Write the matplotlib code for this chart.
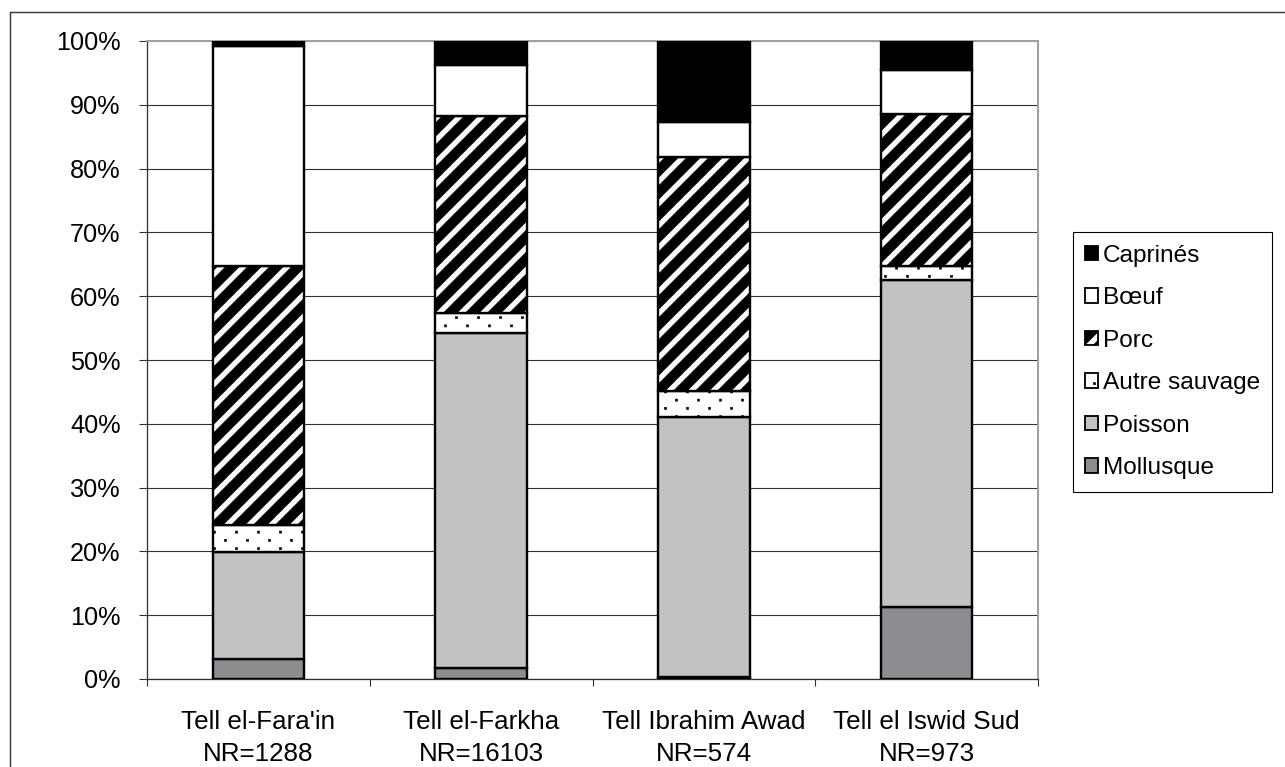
import numpy as np
import matplotlib
matplotlib.use("Agg")
import matplotlib.pyplot as plt
import matplotlib.hatch as mhatch
from matplotlib.path import Path
from matplotlib.patches import Rectangle
from matplotlib.ticker import PercentFormatter, FixedLocator

# ---- data (percent of NR per site) ----
sites = ["Tell el-Fara'in", "Tell el-Farkha", "Tell Ibrahim Awad", "Tell el Iswid Sud"]
nr = [1288, 16103, 574, 973]

mollusque = [3.1, 1.7, 0.3, 11.3]
poisson = [16.8, 52.5, 40.8, 51.3]
autre_sauvage = [4.3, 3.1, 4.0, 2.1]
porc = [40.5, 30.9, 36.7, 23.9]
boeuf = [34.5, 8.0, 5.5, 6.9]
caprines = [0.8, 3.8, 12.7, 4.5]

series_names = ["Mollusque", "Poisson", "Autre sauvage", "Porc", "Bœuf", "Caprinés"]
series_values = [mollusque, poisson, autre_sauvage, porc, boeuf, caprines]
series_faces = ["#8b8d91", "#c1c2c4", "white", "white", "white", "black"]
series_hatch = [None, None, ".", "/", None, None]


# ---- fill patterns: solid diagonal bands and a staggered fine dot grid ----
class DiagonalBands(mhatch.HatchPatternBase):
    band_fraction = 0.62

    def __init__(self, hatch, density):
        self.n = int(hatch.count("/") * density)
        self.num_vertices = (2 * self.n + 1) * 5 if self.n else 0

    def set_vertices_and_codes(self, vertices, codes):
        n = self.n
        w = self.band_fraction / n
        polys = []
        for k in range(-n, n + 1):
            c = k / n
            polys.append([(0, c), (1, c + 1), (1, c + 1 + w), (0, c + w), (0, c)])
        vertices[:] = np.array(polys).reshape(-1, 2)
        codes[:] = np.tile([Path.MOVETO, Path.LINETO, Path.LINETO,
                            Path.LINETO, Path.CLOSEPOLY], 2 * n + 1)


class StaggeredDots(mhatch.HatchPatternBase):
    size = 0.016

    def __init__(self, hatch, density):
        k = hatch.count(".")
        self.cols = int(k * density)
        self.rows = int(k * density * 8 / 3)
        self.num_vertices = self.cols * self.rows * 5 if k else 0

    def set_vertices_and_codes(self, vertices, codes):
        s = self.size / 2
        pts = []
        for i in range(self.rows):
            y = (i + 0.5) / self.rows
            shift = 0.25 if i % 2 == 0 else 0.75
            for j in range(self.cols):
                x = (j + shift) / self.cols
                pts.append([(x - s, y - s), (x + s, y - s), (x + s, y + s),
                            (x - s, y + s), (x - s, y - s)])
        vertices[:] = np.array(pts).reshape(-1, 2)
        codes[:] = np.tile([Path.MOVETO, Path.LINETO, Path.LINETO,
                            Path.LINETO, Path.CLOSEPOLY], self.cols * self.rows)


mhatch._hatch_types = [DiagonalBands, StaggeredDots]

plt.rcParams["font.family"] = ["Liberation Sans", "DejaVu Sans"]
plt.rcParams["hatch.linewidth"] = 0.3

W, H, DPI = 1285, 767, 132
fig = plt.figure(figsize=(W / DPI, H / DPI), dpi=DPI)
fig.patch.set_facecolor("white")

# outer frame of the chart area
fig.add_artist(Rectangle((10 / W, -0.5), 2.0, 0.5 + 1 - 12 / H,
                         transform=fig.transFigure, fill=False,
                         edgecolor="#3c3c3c", linewidth=0.8))

left, right, top, bottom = 147, 1038, 41, 679
ax = fig.add_axes([left / W, 1 - bottom / H, (right - left) / W, (bottom - top) / H])

x = np.arange(len(sites))
base = np.zeros(len(sites))
handles = []
for name, vals, face, hatch in zip(series_names, series_values, series_faces, series_hatch):
    bars = ax.bar(x, vals, bottom=base, width=0.41, color=face, edgecolor="black",
                  linewidth=1.3, hatch=hatch, label=name, zorder=3)
    handles.append(bars)
    base = base + np.array(vals)

ax.set_xlim(-0.5, len(sites) - 0.5)
ax.set_ylim(0, 100)
ax.yaxis.set_major_locator(FixedLocator(np.arange(0, 101, 10)))
ax.yaxis.set_major_formatter(PercentFormatter(decimals=0))
ax.yaxis.grid(True, color="#303030", linewidth=0.6)
ax.set_axisbelow(True)

ax.set_xticks(x)
ax.set_xticklabels([f"{s}\nNR={n}" for s, n in zip(sites, nr)], linespacing=1.4)
ax.set_xticks(np.arange(-0.5, len(sites)), minor=True)
ax.tick_params(axis="x", which="major", length=0, pad=17, labelsize=14.2)
ax.tick_params(axis="x", which="minor", length=3.8, width=0.6, color="#303030")
ax.tick_params(axis="y", length=4.4, width=0.6, color="#303030", pad=10, labelsize=13.8)

for side in ("top", "right"):
    ax.spines[side].set_color("#a0a0a0")
    ax.spines[side].set_linewidth(1.1)
for side in ("left", "bottom"):
    ax.spines[side].set_color("#303030")
    ax.spines[side].set_linewidth(0.7)

leg = ax.legend(handles[::-1], series_names[::-1], loc="upper left",
                bbox_to_anchor=(1072.7 / W, 1 - 232 / H), bbox_transform=fig.transFigure,
                borderaxespad=0, fontsize=13.3, frameon=True, fancybox=False,
                framealpha=1, edgecolor="black", handlelength=0.53, handleheight=0.53,
                handletextpad=0.18, labelspacing=0.84, borderpad=0.52)
leg.get_frame().set_linewidth(0.6)
for h in leg.legend_handles:
    h.set_linewidth(1.0)

fig.savefig("out.png", dpi=DPI)
